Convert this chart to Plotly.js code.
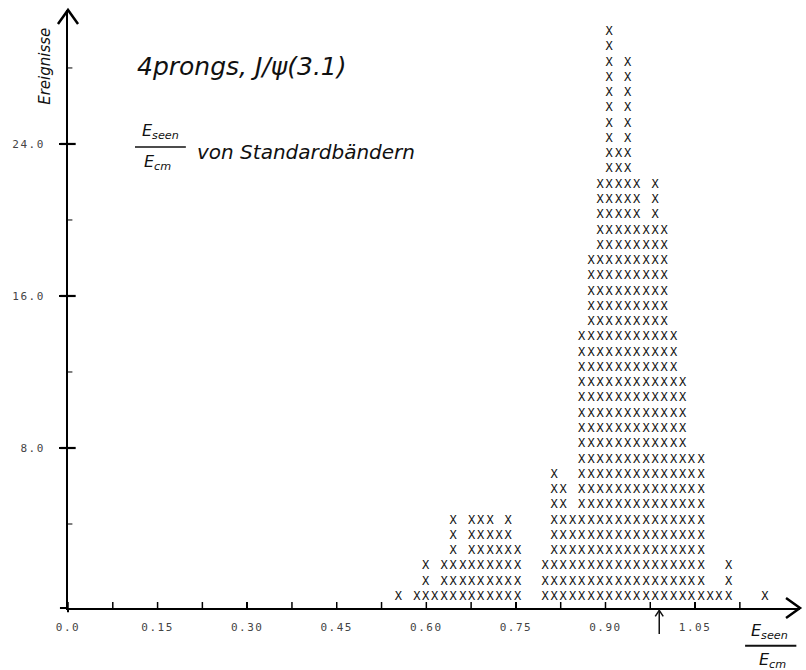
<!DOCTYPE html>
<html><head><meta charset="utf-8">
<script src="https://cdn.plot.ly/plotly-3.0.1.min.js"></script>
<style>
html,body{margin:0;padding:0;background:#fff}
.xtick text,.ytick text{letter-spacing:1.5px}
</style>
</head><body><div id="chart" style="width:806px;height:670px"></div>
<script>
// Bin centres (E_seen/E_cm) and number of events per bin
const binCenters = [0.553,0.584,0.599,0.614,0.630,0.645,0.661,0.676,0.691,0.707,0.722,0.737,0.753,
  0.799,0.814,0.829,0.845,0.860,0.876,0.891,0.906,0.922,0.937,0.952,0.968,0.983,0.998,1.014,1.029,1.044,1.060,1.075,1.090,1.106,1.167];
const eventCounts = [1,1,3,1,3,6,3,6,6,6,5,6,4,
  3,9,8,6,18,23,28,38,30,36,28,25,28,25,18,15,10,10,1,1,3,1];

const xTickVals = [0,0.15,0.30,0.45,0.60,0.75,0.90,1.05];
const xTickText = ['0.0','0.15','0.30','0.45','0.60','0.75','0.90','1.05'];
const xMinorVals = [0.075,0.225,0.375,0.525,0.675,0.825,0.975,1.125];
const yTickVals = [8,16,24];
const yTickText = ['8.0','16.0','24.0'];
const yMinorVals = [4,12,20,28];

// expand each bin into a stack of "X" characters, one per event
const px = [], py = [], pt = [];
binCenters.forEach((c, i) => {
  for (let k = 1; k <= eventCounts[i]; k++) { px.push(c); py.push(k); pt.push('X'); }
});

const hand = {family:'DejaVu Sans', size:20, color:'#111', style:'italic'};
const yRange = [-0.42, 31.05];

// tick marks drawn as axis-referenced shapes
const tickShapes = [];
yTickVals.forEach(v => tickShapes.push({type:'line', xref:'paper', yref:'y', x0:-0.0105, x1:0.0105, y0:v, y1:v, line:{color:'#000', width:2.2}}));
yMinorVals.forEach(v => tickShapes.push({type:'line', xref:'paper', yref:'y', x0:-0.002, x1:0.006, y0:v, y1:v, line:{color:'#000', width:1}}));
xTickVals.concat(xMinorVals).forEach(v => tickShapes.push({type:'line', xref:'x', yref:'paper', x0:v, x1:v, y0:0, y1:0.01, line:{color:'#000', width:1.5}}));
// axis lines slightly overshooting the origin, as on the plotter output
tickShapes.push({type:'line', xref:'paper', yref:'paper', x0:-0.011, x1:0, y0:0, y1:0, line:{color:'#000', width:2}});
tickShapes.push({type:'line', xref:'paper', yref:'paper', x0:0, x1:0, y0:-0.007, y1:0, line:{color:'#000', width:2}});
// open arrowheads at the axis ends
tickShapes.push({type:'path', xref:'paper', yref:'paper', path:'M -0.0137 0.9766 L 0 1.0 L 0.0137 0.9766', line:{color:'#000', width:2.5}});
tickShapes.push({type:'path', xref:'paper', yref:'paper', path:'M 0.9809 0.0167 L 1.0 0 L 0.9809 -0.0167', line:{color:'#000', width:2.5}});
// hand-drawn arrow marking 1.0
tickShapes.push({type:'line', xref:'x', yref:'paper', x0:0.99, x1:0.99, y0:-0.0435, y1:-0.004, line:{color:'#111', width:1.5}});
tickShapes.push({type:'path', xref:'x', yref:'paper', path:'M 0.9833 -0.014 L 0.99 -0.004 L 0.9967 -0.014', line:{color:'#111', width:1.5}});

const traces = [
  {type:'scatter', mode:'text', x:px, y:py, yaxis:'y2', text:pt,
   textposition:'middle center', cliponaxis:false, hoverinfo:'skip',
   textfont:{family:'DejaVu Sans Mono', size:12, color:'#111'}},
  {type:'scatter', mode:'markers', x:[], y:[], yaxis:'y', hoverinfo:'skip'}
];

const layout = {
  width:806, height:670,
  margin:{l:68, r:6, t:10, b:62},
  paper_bgcolor:'#fff', plot_bgcolor:'#fff',
  showlegend:false,
  font:{family:'DejaVu Sans Mono', color:'#444'},
  xaxis:{range:[0,1.2257], showgrid:false, zeroline:false, showline:true,
    linecolor:'#000', linewidth:2, ticks:'inside', ticklen:6, tickwidth:1.5, tickcolor:'#000',
    tickmode:'array', tickvals:xTickVals, ticktext:xTickText,
    tickfont:{family:'DejaVu Sans Mono', size:11, color:'#444'}, ticklabelstandoff:8},
  yaxis:{range:yRange, showgrid:false, zeroline:false, showline:true,
    linecolor:'#000', linewidth:2, ticks:'outside', ticklen:7, tickwidth:2, tickcolor:'#000',
    tickmode:'array', tickvals:yTickVals, ticktext:yTickText,
    tickfont:{family:'DejaVu Sans Mono', size:11, color:'#444'}, ticklabelstandoff:12},
  yaxis2:{overlaying:'y', range:[0.28,39.44], showline:false, showgrid:false, zeroline:false,
    showticklabels:false, ticks:''},
  shapes:[
    {type:'line', xref:'paper', yref:'paper', x0:0.0915, x1:0.161, y0:0.771, y1:0.771, line:{color:'#111', width:1.5}},
    {type:'line', xref:'paper', yref:'paper', x0:0.925, x1:0.995, y0:-0.063, y1:-0.063, line:{color:'#111', width:2}}
  ].concat(tickShapes),
  annotations:[
    {xref:'paper', yref:'paper', x:-0.0314, y:0.905, text:'Ereignisse', textangle:-90, showarrow:false,
     xanchor:'center', yanchor:'middle', font:{family:'DejaVu Sans', size:15, color:'#111', style:'italic'}},
    {xref:'paper', yref:'paper', x:0.0915, y:0.905, text:'4prongs, J/ψ(3.1)', showarrow:false,
     xanchor:'left', yanchor:'middle', font:{family:'DejaVu Sans', size:25, color:'#111', style:'italic'}},
    {xref:'paper', yref:'paper', x:0.1257, y:0.796, text:'E<sub>seen</sub>', showarrow:false,
     xanchor:'center', yanchor:'middle', font:{family:'DejaVu Sans', size:16, color:'#111', style:'italic'}},
    {xref:'paper', yref:'paper', x:0.1216, y:0.745, text:'E<sub>cm</sub>', showarrow:false,
     xanchor:'center', yanchor:'middle', font:{family:'DejaVu Sans', size:16, color:'#111', style:'italic'}},
    {xref:'paper', yref:'paper', x:0.1735, y:0.7625, text:'von Standardbändern', showarrow:false,
     xanchor:'left', yanchor:'middle', font:hand},
    {xref:'paper', yref:'paper', x:0.959, y:-0.040, text:'E<sub>seen</sub>', showarrow:false,
     xanchor:'center', yanchor:'middle', font:{family:'DejaVu Sans', size:16, color:'#111', style:'italic'}},
    {xref:'paper', yref:'paper', x:0.962, y:-0.088, text:'E<sub>cm</sub>', showarrow:false,
     xanchor:'center', yanchor:'middle', font:{family:'DejaVu Sans', size:16, color:'#111', style:'italic'}}
  ]
};

Plotly.newPlot('chart', traces, layout, {staticPlot:true, displayModeBar:false});
</script>
</body></html>
